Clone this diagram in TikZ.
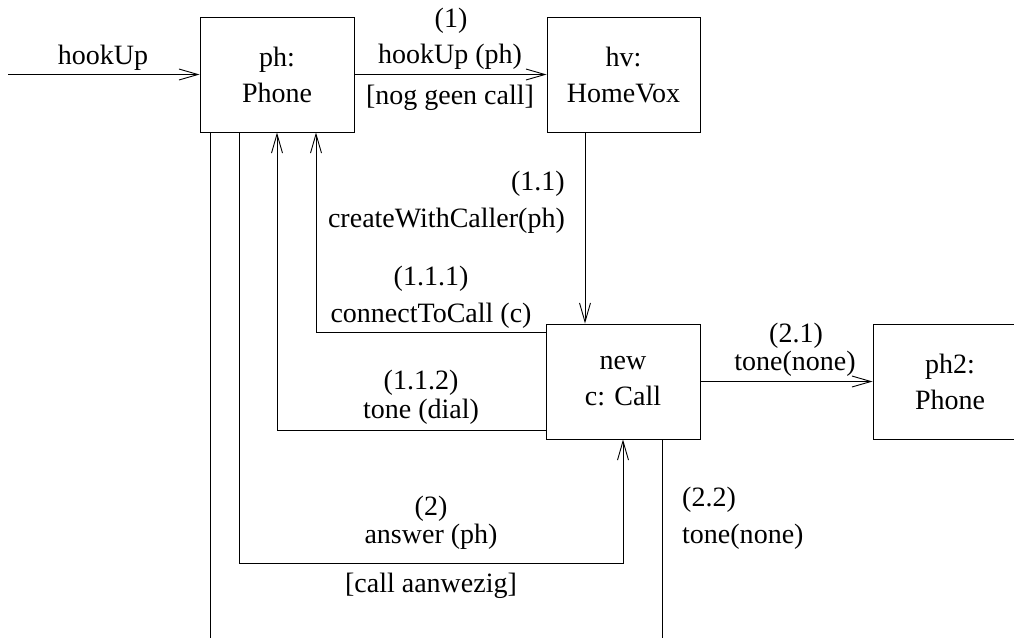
\documentclass[tikz,border=0pt]{standalone}
\usepackage{fontspec}
\setmainfont{Liberation Serif}
\usetikzlibrary{arrows.meta}
\begin{document}
\begin{tikzpicture}[x=1pt,y=-1pt,
  box/.style={draw,line width=0.9pt,minimum width=154pt,minimum height=115pt,inner sep=0pt,align=center,font=\fontsize{28}{36}\selectfont},
  lbl/.style={inner sep=0pt,anchor=base,font=\fontsize{28}{34}\selectfont},
  conn/.style={line width=0.9pt},
  arr/.style={conn,-{Straight Barb[length=19pt,width=11pt]}}]
\useasboundingbox (0,0) rectangle (1014,638);
\clip (0,0) rectangle (1014,638);
% boxes
\node[box] (ph) at (277,74.5) {ph:\\Phone};
\node[box,minimum width=153pt] (hv) at (623.5,74.5) {hv:\\HomeVox};
\node[box] (call) at (623,381.5) {new\\c: Call};
\node[box] (ph2) at (950,381.5) {ph2:\\Phone};
% free ends
\coordinate (hin) at (8,74.5);
\coordinate (ans) at (623,563);
\coordinate (phend) at (210.5,638);
\coordinate (ansx) at (239,0);
\coordinate (callend) at (662,638);
% connectors
\draw[arr] (hin) -- (ph.west);
\draw[arr] (ph.east) -- (hv.west);
\draw[arr] ([xshift=-38.5pt]hv.south) -- ([xshift=-38.5pt]hv.south |- call.north);
\draw[arr] ([yshift=-9pt]call.north west) -| ([xshift=39pt]ph.south);
\draw[arr] ([yshift=9pt]call.south west) -| (ph.south);
\draw[arr] (ansx |- ph.south) |- (ans) -- (call.south);
\draw[conn] (phend |- ph.south) -- (phend);
\draw[conn] (callend |- call.south) -- (callend);
\draw[arr] (call.east) -- (ph2.west);
% labels
\node[lbl] (l0) at (103,64) {hookUp};
\node[lbl] (l1a) at (451,27) {(1)};
\node[lbl] (l1b) at (450,63) {hookUp (ph)};
\node[lbl] (l1c) at (450,104) {[nog geen call]};
\node[lbl,anchor=base east] (l11a) at (565,190) {(1.1)};
\node[lbl,anchor=base east] (l11b) at (565,227) {createWithCaller(ph)};
\node[lbl] (l111a) at (431,285) {(1.1.1)};
\node[lbl] (l111b) at (431,322) {connectToCall (c)};
\node[lbl] (l112a) at (421,389) {(1.1.2)};
\node[lbl] (l112b) at (421,418) {tone (dial)};
\node[lbl] (l21a) at (796,342) {(2.1)};
\node[lbl] (l21b) at (795,370) {tone(none)};
\node[lbl] (l2a) at (431,515) {(2)};
\node[lbl] (l2b) at (431,543) {answer (ph)};
\node[lbl] (l2c) at (431,592) {[call aanwezig]};
\node[lbl,anchor=base west] (l22a) at (682,506) {(2.2)};
\node[lbl,anchor=base west] (l22b) at (682,543) {tone(none)};
\end{tikzpicture}
\end{document}
